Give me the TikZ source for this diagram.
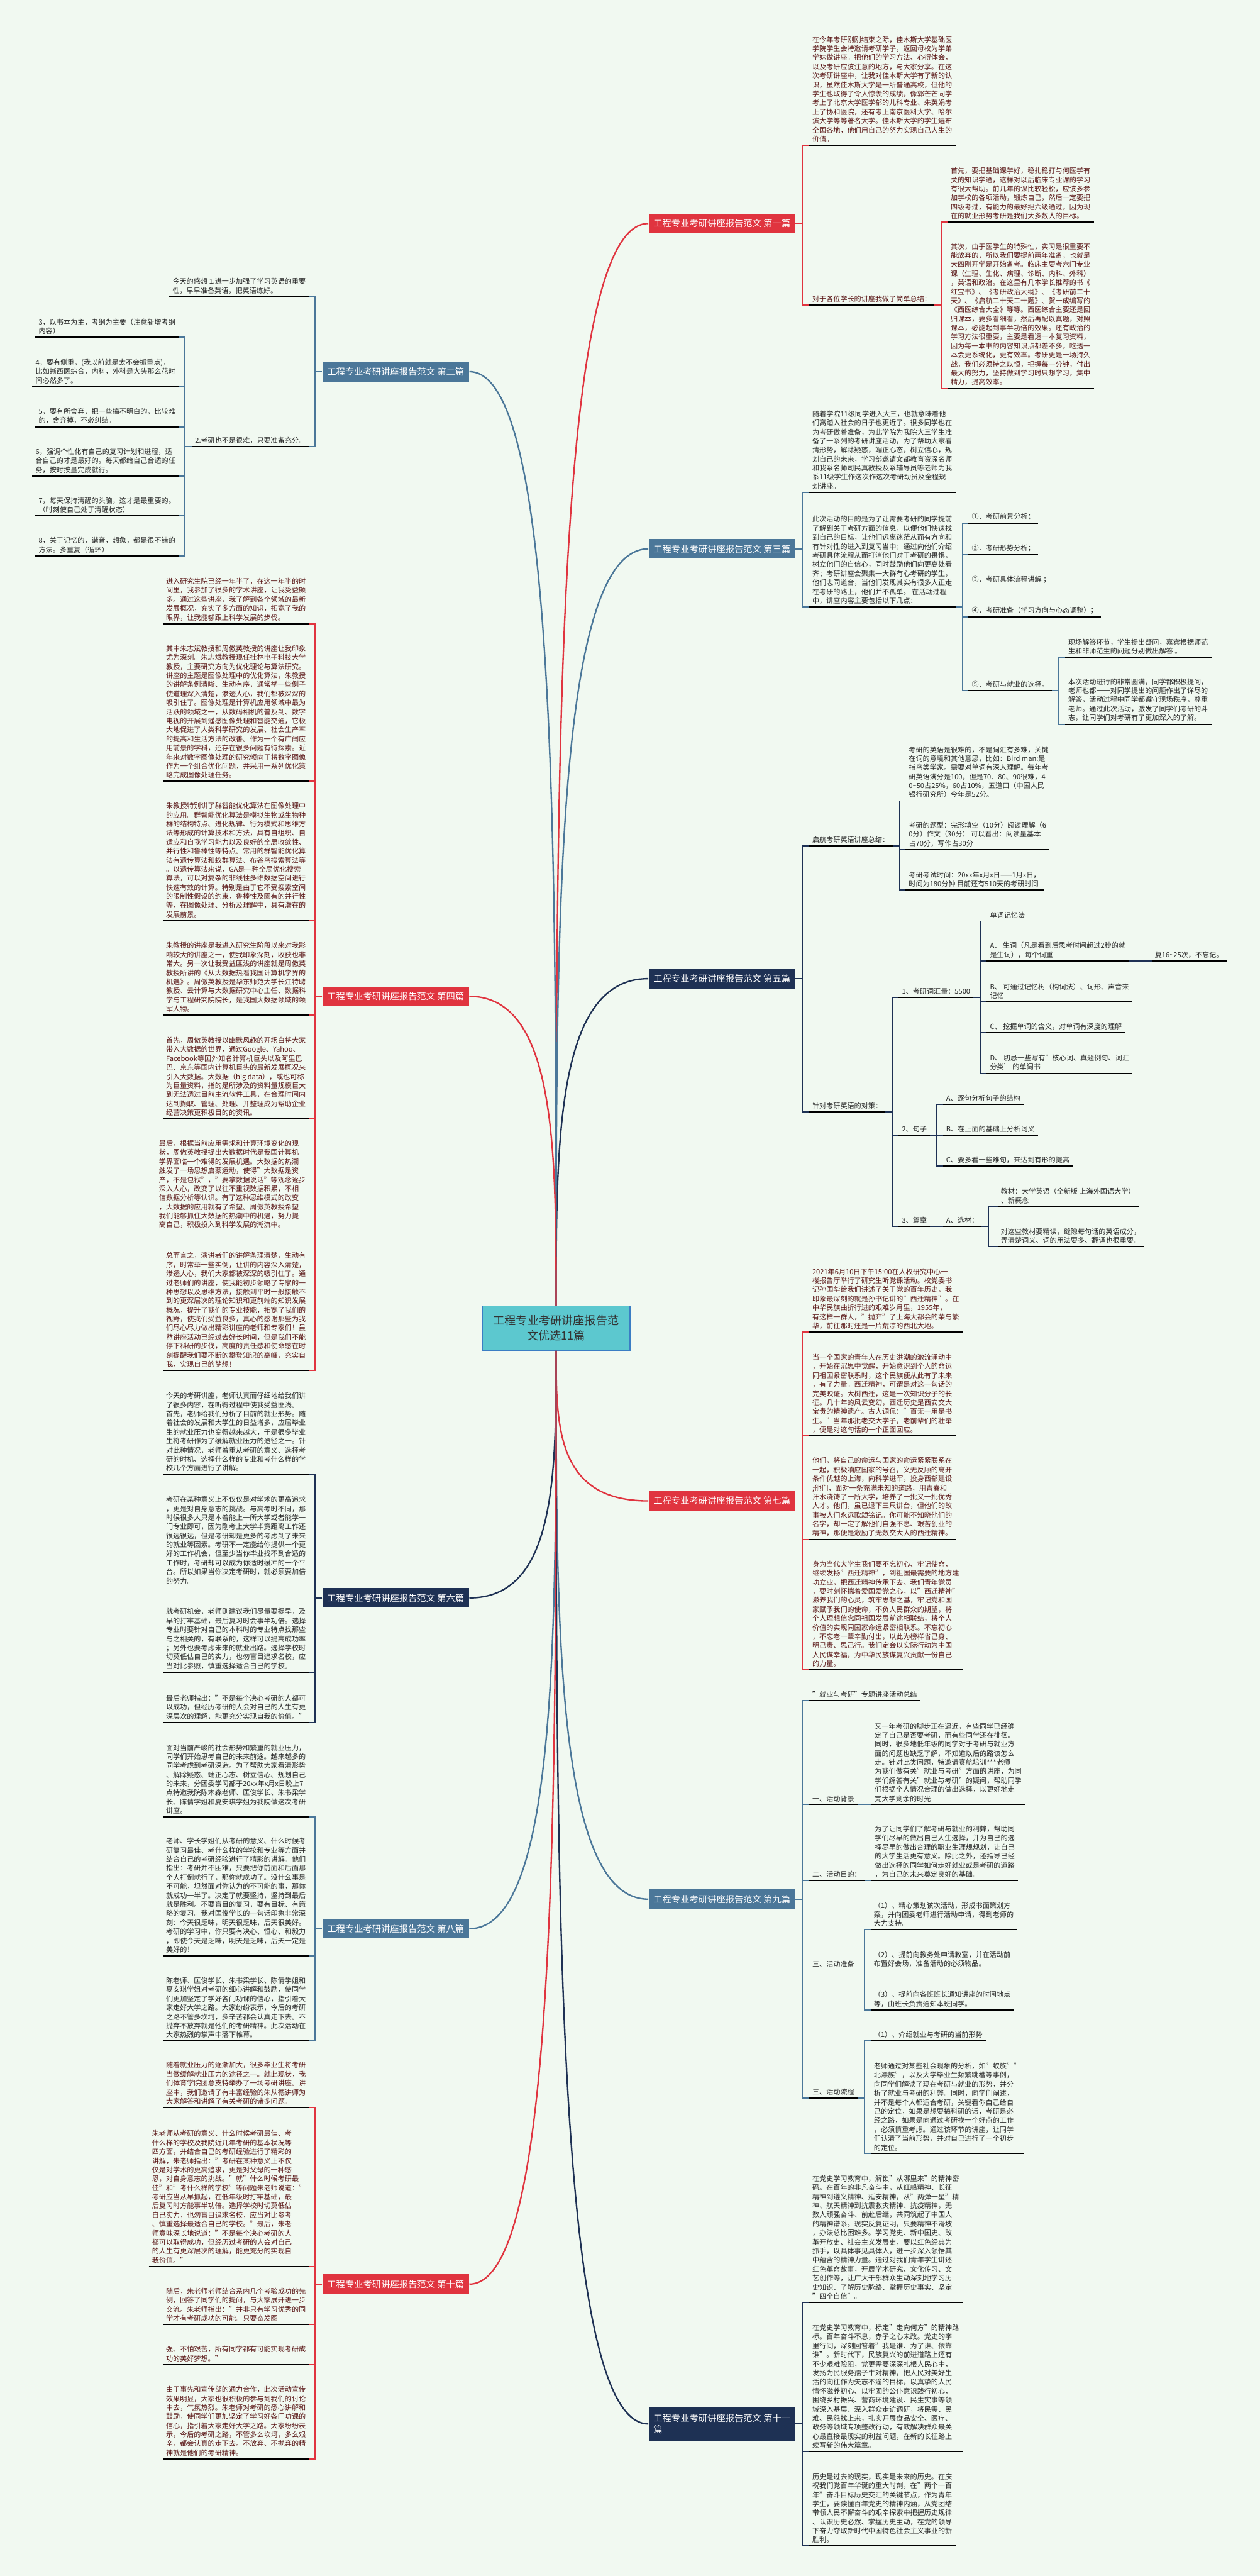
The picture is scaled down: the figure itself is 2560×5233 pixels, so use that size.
\documentclass[tikz,border=0pt]{standalone}
\usepackage{fontspec}
\setmainfont{Noto Sans CJK SC}
\usetikzlibrary{calc}
\definecolor{redc}{HTML}{E0343F}
\definecolor{bluec}{HTML}{4B7799}
\definecolor{navyc}{HTML}{1E3154}
\definecolor{rootc}{HTML}{5CC8CF}
\definecolor{rootb}{HTML}{3B7DC4}
\definecolor{bgc}{HTML}{F1F9F1}
\definecolor{redtxt}{HTML}{5A1616}
\newcommand\txtfont{\fontsize{4.04pt}{5.23pt}\selectfont}
\newcommand\brfont{\fontsize{5.2pt}{6.6pt}\selectfont}
\newcommand\rootfont{\fontsize{6.6pt}{8.6pt}\selectfont}
\begin{document}
\begin{tikzpicture}[x=0.1mm, y=-0.1mm,
    para/.style={align=left, inner xsep=0.6mm, inner ysep=0.5mm, font=\txtfont, text=black!85},
    rpara/.style={para, text=redtxt},
    branch/.style={font=\brfont, text=white, minimum width=29.8mm, minimum height=4mm, inner sep=0.6mm},
    trunk/.style={line width=0.3mm},
    link/.style={line width=0.22mm},
    uline/.style={line width=0.22mm, black}]
\fill[bgc] (0,0) rectangle (2560,5233);
\useasboundingbox (0,0) rectangle (2560,5233);

\node[draw=rootb, fill=rootc, line width=0.2mm, font=\rootfont, text=black!80, align=center, minimum width=30mm, minimum height=9mm] (root) at (1130,2698) {工程专业考研讲座报告范\\文优选11篇};

\node[branch, fill=redc] (b1) at (1467,454) {工程专业考研讲座报告范文 第一篇};
\node[branch, fill=bluec] (b2) at (804,755) {工程专业考研讲座报告范文 第二篇};
\node[branch, fill=bluec] (b3) at (1467,1115) {工程专业考研讲座报告范文 第三篇};
\node[branch, fill=redc] (b4) at (804,2024) {工程专业考研讲座报告范文 第四篇};
\node[branch, fill=navyc] (b5) at (1467,1988) {工程专业考研讲座报告范文 第五篇};
\node[branch, fill=navyc] (b6) at (804,3246) {工程专业考研讲座报告范文 第六篇};
\node[branch, fill=redc] (b7) at (1467,3049) {工程专业考研讲座报告范文 第七篇};
\node[branch, fill=bluec] (b8) at (804,3918) {工程专业考研讲座报告范文 第八篇};
\node[branch, fill=bluec] (b9) at (1467,3858) {工程专业考研讲座报告范文 第九篇};
\node[branch, fill=redc] (b10) at (804,4640) {工程专业考研讲座报告范文 第十篇};
\node[branch, fill=navyc, align=left, minimum height=6.8mm] (b11) at (1467,4924) {工程专业考研讲座报告范文 第十一\\篇};

\foreach \b/\c in {b1/redc, b3/bluec, b5/navyc}
  \draw[trunk, \c] (root.north) .. controls ($(root.north)!0.5!(root.north |- \b.west)$) and (root.north |- \b.west) .. (\b.west);
\foreach \b/\c in {b2/bluec, b4/redc}
  \draw[trunk, \c] (root.north) .. controls ($(root.north)!0.5!(root.north |- \b.east)$) and (root.north |- \b.east) .. (\b.east);
\foreach \b/\c in {b7/redc, b9/bluec, b11/navyc}
  \draw[trunk, \c] (root.south) .. controls ($(root.south)!0.5!(root.south |- \b.west)$) and (root.south |- \b.west) .. (\b.west);
\foreach \b/\c in {b6/navyc, b8/bluec, b10/redc}
  \draw[trunk, \c] (root.south) .. controls ($(root.south)!0.5!(root.south |- \b.east)$) and (root.south |- \b.east) .. (\b.east);

% 第一篇
\node[rpara, anchor=south west] (c1) at (1644,295) {在今年考研刚刚结束之际，佳木斯大学基础医\\
学院学生会特邀请考研学子，返回母校为学弟\\
学妹做讲座。把他们的学习方法、心得体会，\\
以及考研应该注意的地方，与大家分享。在这\\
次考研讲座中，让我对佳木斯大学有了新的认\\
识，虽然佳木斯大学是一所普通高校，但他的\\
学生也取得了令人惊羡的成绩，像郭芒芒同学\\
考上了北京大学医学部的儿科专业、朱英娟考\\
上了协和医院，还有考上南京医科大学、哈尔\\
滨大学等等著名大学。佳木斯大学的学生遍布\\
全国各地，他们用自己的努力实现自己人生的\\
价值。};
\node[rpara, anchor=south west] (c2) at (1644,620) {对于各位学长的讲座我做了简单总结：};
\node[rpara, anchor=south west] (c2a) at (1925,451) {首先，要把基础课学好，稳扎稳打与何医学有\\
关的知识学通，这样对以后临床专业课的学习\\
有很大帮助。前几年的课比较轻松，应该多参\\
加学校的各项活动，锻炼自己，然后一定要把\\
四级考过，有能力的最好把六级通过，因为现\\
在的就业形势考研是我们大多数人的目标。};
\node[rpara, anchor=south west] (c2b) at (1925,789) {其次，由于医学生的特殊性，实习是很重要不\\
能放弃的，所以我们要提前两年准备，也就是\\
大四刚开学是开始备考。临床主要考六门专业\\
课（生理、生化、病理、诊断、内科、外科）\\
，英语和政治。在这里有几本学长推荐的书《\\
红宝书》、《考研政治大纲》、《考研前二十\\
天》、《启航二十天二十题》、贺一成编写的\\
《西医综合大全》等等。西医综合主要还是回\\
归课本，要多看细看，然后再配以真题，对照\\
课本，必能起到事半功倍的效果。还有政治的\\
学习方法很重要，主要是看透一本复习资料，\\
因为每一本书的内容知识点都差不多，吃透一\\
本会更系统化，更有效率。考研更是一场持久\\
战，我们必须持之以恒，把握每一分钟，付出\\
最大的努力，坚持做到学习时只想学习，集中\\
精力，提高效率。};
\foreach \n in {c1,c2} \draw[link, redc] (b1.east) -- ++(14,0) |- (\n.south west);
\foreach \n in {c2a,c2b} \draw[link, redc] (c2.south east) -- ++(14,0) |- (\n.south west);

% 第二篇
\node[para, anchor=south east] (d1) at (628,603) {今天的感想 1.进一步加强了学习英语的重要\\
性，早早准备英语，把英语练好。};
\node[para, anchor=south east] (d2) at (628,907) {2.考研也不是很难，只要准备充分。};
\node[para, anchor=south east] (d2a) at (363,685) {3，以书本为主，考纲为主要（注意新增考纲\\
内容）};
\node[para, anchor=south east] (d2b) at (363,785) {4，要有侧重，(我以前就是太不会抓重点)，\\
比如蜥西医综合，内科，外科是大头那么花时\\
间必然多了。};
\node[para, anchor=south east] (d2c) at (363,867) {5，要有所舍弃，把一些搞不明白的，比较难\\
的，舍弃掉，不必纠结。};
\node[para, anchor=south east] (d2d) at (363,967) {6，强调个性化有自己的复习计划和进程，适\\
合自己的才是最好的。每天都给自己合适的任\\
务，按时按量完成就行。};
\node[para, anchor=south east] (d2e) at (363,1048) {7，每天保持清醒的头脑，这才是最重要的。\\
（时刻使自己处于清醒状态）};
\node[para, anchor=south east] (d2f) at (363,1129) {8，关于记忆的，谐音，想象，都是很不错的\\
方法。多重复（循环）};
\foreach \n in {d1,d2} \draw[link, bluec] (b2.west) -- ++(-14,0) |- (\n.south east);
\foreach \n in {d2a,d2b,d2c,d2d,d2e,d2f} \draw[link, bluec] (d2.south west) -- ++(-14,0) |- (\n.south east);

% 第三篇
\node[para, anchor=south west] (e1) at (1644,1000) {随着学院11级同学进入大三，也就意味着他\\
们离踏入社会的日子也更近了。很多同学也在\\
为考研做着准备，为此学院为我院大三学生准\\
备了一系列的考研讲座活动，为了帮助大家看\\
清形势，解除疑惑，端正心态，树立信心，规\\
划自己的未来，学习部邀请文都教育资深名师\\
和我系名师司民真教授及系辅导员等老师为我\\
系11级学生作这次作这次考研动员及全程规\\
划讲座。};
\node[para, anchor=south west] (e2) at (1644,1233) {此次活动的目的是为了让需要考研的同学提前\\
了解到关于考研方面的信息，以便他们快速找\\
到自己的目标，让他们远离迷茫从而有方向和\\
有针对性的进入到复习当中；通过向他们介绍\\
考研具体流程从而打消他们对于考研的畏惧，\\
树立他们的自信心，同时鼓励他们向更高处看\\
齐；考研讲座会聚集一大群有心考研的学生，\\
他们志同道合，当他们发现其实有很多人正走\\
在考研的路上，他们并不孤单。 在活动过程\\
中，讲座内容主要包括以下几点：};
\node[para, anchor=south west] (e2a) at (1968,1063) {①．考研前景分析；};
\node[para, anchor=south west] (e2b) at (1968,1126) {②．考研形势分析；};
\node[para, anchor=south west] (e2c) at (1968,1190) {③．考研具体流程讲解 ；};
\node[para, anchor=south west] (e2d) at (1968,1253) {④．考研准备（学习方向与心态调整）；};
\node[para, anchor=south west] (e2e) at (1968,1403) {⑤．考研与就业的选择。};
\node[para, anchor=south west] (e2e1) at (2164,1335) {现场解答环节，学生提出疑问，嘉宾根据师范\\
生和非师范生的问题分别做出解答 。};
\node[para, anchor=south west] (e2e2) at (2164,1471) {本次活动进行的非常圆满，同学都积极提问，\\
老师也都一一对同学提出的问题作出了详尽的\\
解答，活动过程中同学都遵守现场秩序，尊重\\
老师。通过此次活动，激发了同学们考研的斗\\
志，让同学们对考研有了更加深入的了解。};
\foreach \n in {e1,e2} \draw[link, bluec] (b3.east) -- ++(14,0) |- (\n.south west);
\foreach \n in {e2a,e2b,e2c,e2d,e2e} \draw[link, bluec] (e2.south east) -- ++(14,0) |- (\n.south west);
\foreach \n in {e2e1,e2e2} \draw[link, bluec] (e2e.south east) -- ++(14,0) |- (\n.south west);

% 第四篇
\node[rpara, anchor=south east] (p1) at (628,1267) {进入研究生院已经一年半了，在这一年半的时\\
间里，我参加了很多的学术讲座，让我受益颇\\
多。通过这些讲座，我了解到各个领域的最新\\
发展概况，充实了多方面的知识，拓宽了我的\\
眼界，让我能够跟上科学发展的步伐。};
\node[rpara, anchor=south east] (p2) at (628,1587) {其中朱志斌教授和周傲英教授的讲座让我印象\\
尤为深刻。朱志斌教授现任桂林电子科技大学\\
教授，主要研究方向为优化理论与算法研究。\\
讲座的主题是图像处理中的优化算法，朱教授\\
的讲解条例清晰、生动有序，通常举一些例子\\
使道理深入清楚，渗透人心，我们都被深深的\\
吸引住了。图像处理是计算机应用领域中最为\\
活跃的领域之一，从数码相机的普及到、数字\\
电视的开展到遥感图像处理和智能交通，它极\\
大地促进了人类科学研究的发展、社会生产率\\
的提高和生活方法的改善。作为一个有广阔应\\
用前景的学科，还存在很多问题有待探索。近\\
年来对数字图像处理的研究倾向于将数字图像\\
作为一个组合优化问题，并采用一系列优化策\\
略完成图像处理任务。};
\node[rpara, anchor=south east] (p3) at (628,1870) {朱教授特别讲了群智能优化算法在图像处理中\\
的应用。群智能优化算法是模拟生物或生物种\\
群的结构特点、进化规律、行为模式和思维方\\
法等形成的计算技术和方法，具有自组织、自\\
适应和自我学习能力以及良好的全局收敛性、\\
并行性和鲁棒性等特点。常用的群智能优化算\\
法有遗传算法和蚁群算法、布谷鸟搜索算法等\\
。以遗传算法来说，GA是一种全局优化搜索\\
算法，可以对复杂的非线性多维数据空间进行\\
快速有效的计算。特别是由于它不受搜索空间\\
的限制性假设的约束，鲁棒性及固有的并行性\\
等，在图像处理、分析及理解中，具有潜在的\\
发展前景。};
\node[rpara, anchor=south east] (p4) at (628,2062) {朱教授的讲座是我进入研究生阶段以来对我影\\
响较大的讲座之一，使我印象深刻，收获也非\\
常大。另一次让我受益匪浅的讲座就是周傲英\\
教授所讲的《从大数据热看我国计算机学界的\\
机遇》。周傲英教授是华东师范大学长江特聘\\
教授、云计算与大数据研究中心主任、数据科\\
学与工程研究院院长，是我国大数据领域的领\\
军人物。};
\node[rpara, anchor=south east] (p5) at (628,2273) {首先，周傲英教授以幽默风趣的开场白将大家\\
带入大数据的世界，通过Google、Yahoo、\\
Facebook等国外知名计算机巨头以及阿里巴\\
巴、京东等国内计算机巨头的最新发展概况来\\
引入大数据。大数据（big data），或也可称\\
为巨量资料，指的是所涉及的资料量规模巨大\\
到无法透过目前主流软件工具，在合理时间内\\
达到撷取、管理、处理、并整理成为帮助企业\\
经营决策更积极目的的资讯。};
\node[rpara, anchor=south east] (p6) at (628,2501) {最后，根据当前应用需求和计算环境变化的现\\
状，周傲英教授提出大数据时代是我国计算机\\
学界面临一个难得的发展机遇。大数据的热潮\\
触发了一场思想启蒙运动，使得"大数据是资\\
产，不是包袱"，"要拿数据说话"等观念逐步\\
深入人心，改变了以往不重视数据积累，不相\\
信数据分析等认识。有了这种思维模式的改变\\
，大数据的应用就有了希望。周傲英教授希望\\
我们能够抓住大数据的热潮中的机遇，努力提\\
高自己，积极投入到科学发展的潮流中。};
\node[rpara, anchor=south east] (p7) at (628,2784) {总而言之，演讲者们的讲解条理清楚，生动有\\
序，时常举一些实例，让讲的内容深入清楚，\\
渗透人心，我们大家都被深深的吸引住了。通\\
过老师们的讲座，使我能初步领略了专家的一\\
种思想以及思维方法，接触到平时一般接触不\\
到的更深层次的理论知识和更前端的知识发展\\
概况，提升了我们的专业技能，拓宽了我们的\\
视野，使我们受益良多，真心的感谢那些为我\\
们尽心尽力做出精彩讲座的老师和专家们！虽\\
然讲座活动已经过去好长时间，但是我们不能\\
停下科研的步伐，高度的责任感和使命感在时\\
刻提醒我们要不断的攀登知识的高峰，充实自\\
我，实现自己的梦想！};
\foreach \n in {p1,p2,p3,p4,p5,p6,p7} \draw[link, redc] (b4.west) -- ++(-14,0) |- (\n.south east);

% 第五篇
\node[para, anchor=south west] (f1) at (1644,1718) {启航考研英语讲座总结：};
\node[para, anchor=south west] (f1a) at (1840,1627) {考研的英语是很难的，不是词汇有多难，关键\\
在词的意境和其他意思，比如：Bird man:是\\
指鸟类学家。需要对单词有深入理解。每年考\\
研英语满分是100，但是70、80、90很难，4\\
0\textasciitilde 50占25\%，60占10\%，五道口（中国人民\\
银行研究所）今年是52分。};
\node[para, anchor=south west] (f1b) at (1840,1726) {考研的题型：完形填空（10分）阅读理解（6\\
0分）作文（30分） 可以看出：阅读量基本\\
占70分，写作占30分};
\node[para, anchor=south west] (f1c) at (1840,1808) {考研考试时间：20xx年x月x日——1月x日，\\
时间为180分钟 目前还有510天的考研时间};
\node[para, anchor=south west] (f2) at (1644,2259) {针对考研英语的对策：};
\node[para, anchor=south west] (g1) at (1826,2026) {1、考研词汇量：5500};
\node[para, anchor=south west] (g1a) at (2005,1871) {单词记忆法};
\node[para, anchor=south west] (g1b) at (2005,1952) {A、 生词（凡是看到后思考时间超过2秒的就\\
是生词），每个词重};
\node[para, anchor=south west] (g1b1) at (2340,1952) {复16\textasciitilde 25次，不忘记。};
\node[para, anchor=south west] (g1c) at (2005,2035) {B、 可通过记忆树（构词法）、词形、声音来\\
记忆};
\node[para, anchor=south west] (g1d) at (2005,2098) {C、 挖掘单词的含义，对单词有深度的理解};
\node[para, anchor=south west] (g1e) at (2005,2180) {D、 切忌一些写有"核心词、真题例句、词汇\\
分类’ 的单词书};
\node[para, anchor=south west] (g2) at (1826,2306) {2、句子};
\node[para, anchor=south west] (g2a) at (1916,2243) {A、逐句分析句子的结构};
\node[para, anchor=south west] (g2b) at (1916,2306) {B、在上面的基础上分析词义};
\node[para, anchor=south west] (g2c) at (1916,2369) {C、要多看一些难句，来达到有形的提高};
\node[para, anchor=south west] (g3) at (1826,2491) {3、篇章};
\node[para, anchor=south west] (g3a) at (1916,2491) {A、选材：};
\node[para, anchor=south west] (g3a1) at (2027,2451) {教材：大学英语（全新版 上海外国语大学）\\
、新概念};
\node[para, anchor=south west] (g3a2) at (2027,2532) {对这些教材要精读，缝隙每句话的英语成分，\\
弄清楚词义、词的用法要多、翻译也很重要。};
\foreach \n in {f1,f2} \draw[link, navyc] (b5.east) -- ++(14,0) |- (\n.south west);
\foreach \n in {f1a,f1b,f1c} \draw[link, navyc] (f1.south east) -- ++(14,0) |- (\n.south west);
\foreach \n in {g1,g2,g3} \draw[link, navyc] (f2.south east) -- ++(14,0) |- (\n.south west);
\foreach \n in {g1a,g1b,g1c,g1d,g1e} \draw[link, navyc] (g1.south east) -- ++(14,0) |- (\n.south west);
\foreach \n in {g2a,g2b,g2c} \draw[link, navyc] (g2.south east) -- ++(14,0) |- (\n.south west);
\foreach \n in {g3a1,g3a2} \draw[link, navyc] (g3a.south east) -- ++(14,0) |- (\n.south west);
\draw[link, navyc] (g1b.south east) -- (g1b1.south west);
\draw[link, navyc] (g3.south east) -- (g3a.south west);

% 第六篇
\node[para, anchor=south east] (q1) at (628,2995) {今天的考研讲座，老师认真而仔细地给我们讲\\
了很多内容，在听得过程中使我受益匪浅。\\
首先，老师给我们分析了目前的就业形势。随\\
着社会的发展和大学生的日益增多，应届毕业\\
生的就业压力也变得越来越大，于是很多毕业\\
生将考研作为了缓解就业压力的途径之一。针\\
对此种情况，老师着重从考研的意义、选择考\\
研的时机、选择什么样的专业和考什么样的学\\
校几个方面进行了讲解。};
\node[para, anchor=south east] (q2) at (628,3224) {考研在某种意义上不仅仅是对学术的更高追求\\
，更是对自身意志的挑战。与高考时不同，那\\
时候很多人只是本着能上一所大学或者能学一\\
门专业即可，因为刚考上大学毕竟距离工作还\\
很远很远，但是考研却是更多的考虑到了未来\\
的就业等因素。考研不一定能给你提供一个更\\
好的工作机会，但至少当你毕业找不到合适的\\
工作时，考研却可以成为你适时缓冲的一个平\\
台。所以如果当你决定考研时，就必须要加倍\\
的努力。};
\node[para, anchor=south east] (q3) at (628,3397) {就考研机会，老师则建议我们尽量要提早，及\\
早的打牢基础，最后复习时会事半功倍。选择\\
专业时要针对自己的本科时的专业特点找那些\\
与之相关的，有联系的，这样可以提高成功率\\
；另外也要考虑未来的就业出路。选择学校时\\
切莫低估自己的实力，也勿盲目追求名校，应\\
当对比参照，慎重选择适合自己的学校。};
\node[para, anchor=south east] (q4) at (628,3499) {最后老师指出："不是每个决心考研的人都可\\
以成功，但经历考研的人会对自己的人生有更\\
深层次的理解，能更充分实现自我的价值。"};
\foreach \n in {q1,q2,q3,q4} \draw[link, navyc] (b6.west) -- ++(-14,0) |- (\n.south east);

% 第七篇
\node[rpara, anchor=south west] (h1) at (1644,2706) {2021年6月10日下午15:00在人权研究中心一\\
楼报告厅举行了研究生听党课活动。校党委书\\
记孙国华给我们讲述了关于党的百年历史，我\\
印象最深刻的就是孙书记讲的"西迁精神"。在\\
中华民族曲折行进的艰难岁月里，1955年，\\
有这样一群人，"抛弃"了上海大都会的荣与繁\\
华，前往那时还是一片荒凉的西北大地。};
\node[rpara, anchor=south west] (h2) at (1644,2917) {当一个国家的青年人在历史洪潮的激流涌动中\\
，开始在沉思中觉醒，开始意识到个人的命运\\
同祖国紧密联系时，这个民族便从此有了未来\\
，有了力量。西迁精神，可谓是对这一句话的\\
完美映证。大树西迁，这是一次知识分子的长\\
征。几十年的风云变幻，西迁历史是西安交大\\
宝贵的精神遗产。古人调侃："百无一用是书\\
生。"当年那批老交大学子，老前辈们的壮举\\
，便是对这句话的一个正面回应。};
\node[rpara, anchor=south west] (h3) at (1644,3127) {他们，将自己的命运与国家的命运紧紧联系在\\
一起，积极响应国家的号召，义无反顾的离开\\
条件优越的上海，向科学进军，投身西部建设\\
;他们，面对一条充满未知的道路，用青春和\\
汗水浇铸了一所大学，培养了一批又一批优秀\\
人才。他们，虽已退下三尺讲台，但他们的故\\
事被人们永远歌颂铭记。你可能不知晓他们的\\
名字，却一定了解他们自强不息、艰苦创业的\\
精神，那便是激励了无数交大人的西迁精神。};
\node[rpara, anchor=south west] (h4) at (1644,3392) {身为当代大学生我们要不忘初心、牢记使命，\\
继续发扬"西迁精神"，到祖国最需要的地方建\\
功立业，把西迁精神传承下去。我们青年党员\\
，要时刻怀揣着爱国爱党之心，以"西迁精神"\\
滋养我们的心灵，筑牢思想之基，牢记党和国\\
家赋予我们的使命，不负人民群众的期望，将\\
个人理想信念同祖国发展前途相联结，将个人\\
价值的实现同国家命运紧密相联系。不忘初心\\
，不忘老一辈辛勤付出，以此为榜样省己身、\\
明己责、思己行。我们定会以实际行动为中国\\
人民谋幸福，为中华民族谋复兴贡献一份自己\\
的力量。};
\foreach \n in {h1,h2,h3,h4} \draw[link, redc] (b7.east) -- ++(14,0) |- (\n.south west);

% 第八篇
\node[para, anchor=south east] (r1) at (628,3691) {面对当前严峻的社会形势和繁重的就业压力，\\
同学们开始思考自己的未来前途。越来越多的\\
同学考虑到考研深造。为了帮助大家看清形势\\
、解除疑惑、端正心态、树立信心、规划自己\\
的未来，分团委学习部于20xx年x月x日晚上7\\
点特邀我院陈木森老师、匡俊学长、朱书梁学\\
长、陈倩学姐和夏安琪学姐为我院做这次考研\\
讲座。};
\node[para, anchor=south east] (r2) at (628,3973) {老师、学长学姐们从考研的意义、什么时候考\\
研复习最佳、考什么样的学校和专业等方面并\\
结合自己的考研经验进行了精彩的讲解。他们\\
指出：考研并不困难，只要把你前面和后面那\\
个人打倒就行了，那你就成功了。没什么事是\\
不可能，坦然面对你认为的不可能的事，那你\\
就成功一半了。决定了就要坚持，坚持到最后\\
就是胜利。不要盲目的复习，要有目标、有策\\
略的复习。我对匡俊学长的一句话印象非常深\\
刻：今天很乏味，明天很乏味，后天很美好。\\
考研的学习中，你只要有决心、恒心、和毅力\\
，即使今天是乏味，明天是乏味，后天一定是\\
美好的！};
\node[para, anchor=south east] (r3) at (628,4146) {陈老师、匡俊学长、朱书梁学长、陈倩学姐和\\
夏安琪学姐对考研的细心讲解和鼓励，使同学\\
们更加坚定了学好各门功课的信心，指引着大\\
家走好大学之路。大家纷纷表示，今后的考研\\
之路不管多坎坷，多辛苦都会认真走下去。不\\
抛弃不放弃就是他们的考研精神。此次活动在\\
大家热烈的掌声中落下帷幕。};
\foreach \n in {r1,r2,r3} \draw[link, bluec] (b8.west) -- ++(-14,0) |- (\n.south east);

% 第九篇
\node[para, anchor=south west] (k1) at (1644,3455) {"就业与考研"专题讲座活动总结};
\node[para, anchor=south west] (k2) at (1644,3666) {一、活动背景};
\node[para, anchor=south west] (k2a) at (1771,3666) {又一年考研的脚步正在逼近，有些同学已经确\\
定了自己是否要考研，而有些同学还在徘徊。\\
同时，很多地低年级的同学对于考研与就业方\\
面的问题也缺乏了解，不知道以后的路该怎么\\
走。针对此类问题，特邀请赛航培训***老师\\
为我们做有关"就业与考研"方面的讲座，为同\\
学们解答有关"就业与考研"的疑问，帮助同学\\
们根据个人情况合理的做出选择，以更好地走\\
完大学剩余的时光};
\node[para, anchor=south west] (k3) at (1644,3820) {二、活动目的：};
\node[para, anchor=south west] (k3a) at (1771,3820) {为了让同学们了解考研与就业的利弊，帮助同\\
学们尽早的做出自己人生选择，并为自己的选\\
择尽早的做出合理的职业生涯规规划，让自己\\
的大学生活更有意义。除此之外，还指导已经\\
做出选择的同学如何走好就业或是考研的道路\\
，为自己的未来奠定良好的基础。};
\node[para, anchor=south west] (k4) at (1644,4002) {三、活动准备};
\node[para, anchor=south west] (k4a) at (1769,3920) {（1）、精心策划该次活动，形成书面策划方\\
案，并向团委老师进行活动申请，得到老师的\\
大力支持。};
\node[para, anchor=south west] (k4b) at (1769,4002) {（2）、提前向教务处申请教室，并在活动前\\
布置好会场，准备活动的必须物品。};
\node[para, anchor=south west] (k4c) at (1769,4083) {（3）、提前向各班班长通知讲座的时间地点\\
等，由班长负责通知本班同学。};
\node[para, anchor=south west] (k5) at (1644,4262) {三、活动流程};
\node[para, anchor=south west] (k5a) at (1769,4146) {（1）、介绍就业与考研的当前形势};
\node[para, anchor=south west] (k5b) at (1769,4375) {老师通过对某些社会现象的分析，如"蚁族""\\
北漂族"，以及大学毕业生频繁跳槽等事例，\\
向同学们解读了现在考研与就业的形势，并分\\
析了就业与考研的利弊。同时，向学们阐述，\\
并不是每个人都适合考研，关键看你自己给自\\
己的定位，如果是想要搞科研的话，考研是必\\
经之路，如果是向通过考研找一个好点的工作\\
，必须慎重考虑。通过该环节的讲座，让同学\\
们认清了当前形势，并对自己进行了一个初步\\
的定位。};
\foreach \n in {k1,k2,k3,k4,k5} \draw[link, bluec] (b9.east) -- ++(14,0) |- (\n.south west);
\draw[link, bluec] (k2.south east) -- (k2a.south west);
\draw[link, bluec] (k3.south east) -- (k3a.south west);
\foreach \n in {k4a,k4b,k4c} \draw[link, bluec] (k4.south east) -- ++(14,0) |- (\n.south west);
\foreach \n in {k5a,k5b} \draw[link, bluec] (k5.south east) -- ++(14,0) |- (\n.south west);

% 第十篇
\node[rpara, anchor=south east] (s1) at (628,4281) {随着就业压力的逐渐加大，很多毕业生将考研\\
当做缓解就业压力的途径之一。就此现状，我\\
们体育学院团总支特举办了一场考研讲座。讲\\
座中，我们邀请了有丰富经验的朱从德讲师为\\
大家解答和讲解了有关考研的诸多问题。};
\node[rpara, anchor=south east] (s2) at (628,4604) {朱老师从考研的意义、什么时候考研最佳、考\\
什么样的学校及我院近几年考研的基本状况等\\
四方面，并结合自己的考研经验进行了精彩的\\
讲解，朱老师指出："考研在某种意义上不仅\\
仅是对学术的更高追求，更是对父母的一种感\\
恩，对自身意志的挑战。"就"什么时候考研最\\
佳"和"考什么样的学校"等问题朱老师说道："\\
考研应当从早抓起，在低年级时打牢基础，最\\
后复习时方能事半功倍。选择学校时切莫低估\\
自己实力，也勿盲目追求名校，应当对比参考\\
、慎重选择最适合自己的学校。"最后，朱老\\
师意味深长地说道："不是每个决心考研的人\\
都可以取得成功，但经历过考研的人会对自己\\
的人生有更深层次的理解，能更充分的实现自\\
我价值。"};
\node[rpara, anchor=south east] (s3) at (628,4722) {随后，朱老师老师结合系内几个考验成功的先\\
例，回答了同学们的提问，与大家展开进一步\\
交流。朱老师指出："并非只有学习优秀的同\\
学才有考研成功的可能。只要奋发图};
\node[rpara, anchor=south east] (s4) at (628,4803) {强、不怕艰苦，所有同学都有可能实现考研成\\
功的美好梦想。"};
\node[rpara, anchor=south east] (s5) at (628,4995) {由于事先和宣传部的通力合作，此次活动宣传\\
效果明显，大家也很积极的参与到我们的讨论\\
中去，气氛热烈。朱老师对考研的悉心讲解和\\
鼓励，使同学们更加坚定了学习好各门功课的\\
信心，指引着大家走好大学之路。大家纷纷表\\
示，今后的考研之路，不管多么坎坷，多么艰\\
辛，都会认真的走下去。不放弃、不抛弃的精\\
神就是他们的考研精神。};
\foreach \n in {s1,s2,s3,s4,s5} \draw[link, redc] (b10.west) -- ++(-14,0) |- (\n.south east);

% 第十一篇
\node[para, anchor=south west] (m1) at (1644,4677) {在党史学习教育中，解锁"从哪里来"的精神密\\
码。在百年的非凡奋斗中，从红船精神、长征\\
精神到遵义精神、延安精神，从"两弹一星"精\\
神、航天精神到抗震救灾精神、抗疫精神，无\\
数人顽强奋斗、前赴后继，共同筑起了中国人\\
的精神谱系。现实反复证明，只要精神不滑坡\\
，办法总比困难多。学习党史、新中国史、改\\
革开放史、社会主义发展史，要以红色经典为\\
抓手，以具体事见具体人，进一步深入领悟其\\
中蕴含的精神力量。通过对我们青年学生讲述\\
红色革命故事，开展学术研究、文化传习、文\\
艺创作等，让广大干部群众生动深刻地学习历\\
史知识、了解历史脉络、掌握历史事实、坚定\\
"四个自信"。};
\node[para, anchor=south west] (m2) at (1644,4980) {在党史学习教育中，标定"走向何方"的精神路\\
标。百年奋斗不息，赤子之心未改。党史的字\\
里行间，深刻回答着"我是谁、为了谁、依靠\\
谁"。新时代下，民族复兴的前进道路上还有\\
不少艰难险阻，党更需要深深扎根人民心中，\\
发扬为民服务孺子牛对精神，把人民对美好生\\
活的向往作为矢志不渝的目标，以真挚的人民\\
情怀滋养初心、以牢固的公仆意识践行初心，\\
围绕乡村振兴、营商环境建设、民生实事等领\\
域深入基层、深入群众走访调研，将民需、民\\
难、民怨找上来，扎实开展食品安全、医疗、\\
政务等领域专项整改行动，有效解决群众最关\\
心最直接最现实的利益问题，在新的长征路上\\
续写新的伟大篇章。};
\node[para, anchor=south west] (m3) at (1644,5172) {历史是过去的现实，现实是未来的历史。在庆\\
祝我们党百年华诞的重大时刻，在"两个一百\\
年"奋斗目标历史交汇的关键节点，作为青年\\
学生，要读懂百年党史的精神内涵，从党团结\\
带领人民不懈奋斗的艰辛探索中把握历史规律\\
、认识历史必然、掌握历史主动，在党的领导\\
下奋力夺取新时代中国特色社会主义事业的新\\
胜利。};
\foreach \n in {m1,m2,m3} \draw[link, navyc] (b11.east) -- ++(14,0) |- (\n.south west);

\foreach \n in {c1,c2,c2a,c2b,d1,d2,d2a,d2b,d2c,d2d,d2e,d2f,e1,e2,e2a,e2b,e2c,e2d,e2e,e2e1,e2e2,
  p1,p2,p3,p4,p5,p6,p7,f1,f1a,f1b,f1c,f2,g1,g1a,g1b,g1b1,g1c,g1d,g1e,g2,g2a,g2b,g2c,g3,g3a,g3a1,g3a2,
  q1,q2,q3,q4,h1,h2,h3,h4,r1,r2,r3,k1,k2,k2a,k3,k3a,k4,k4a,k4b,k4c,k5,k5a,k5b,s1,s2,s3,s4,s5,m1,m2,m3}
  \draw[uline] (\n.south west) -- (\n.south east);
\end{tikzpicture}
\end{document}
